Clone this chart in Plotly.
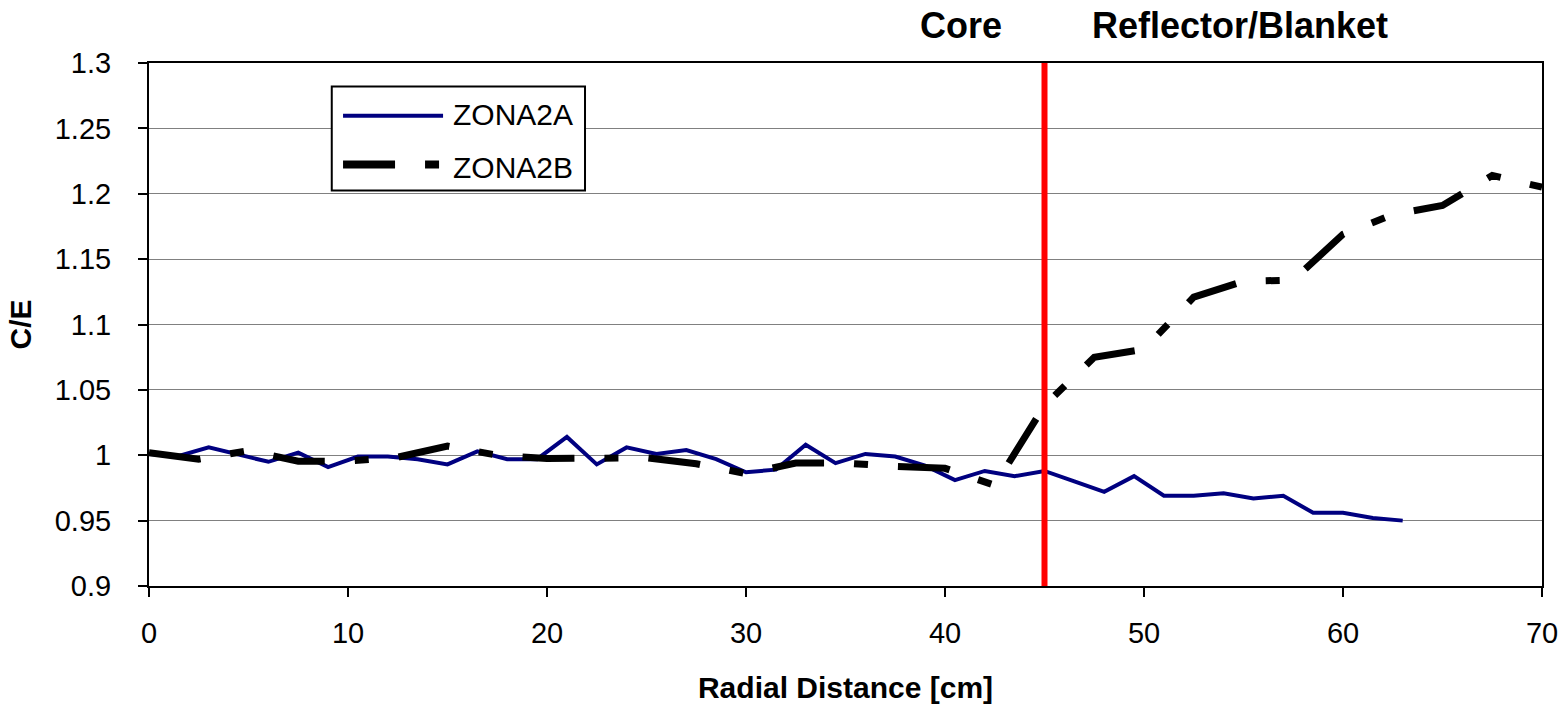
import plotly.graph_objects as go

# ---------------- data ----------------
radial_a = [0, 1.5, 3, 4.5, 6, 7.5, 9, 10.5, 12, 13.5, 15, 16.5, 18, 19.5, 21, 22.5,
            24, 25.5, 27, 28.5, 30, 31.5, 33, 34.5, 36, 37.5, 39, 40.5, 42, 43.5, 45,
            46.5, 48, 49.5, 51, 52.5, 54, 55.5, 57, 58.5, 60, 61.5, 63]
zona2a = [1.001, 0.9995, 1.006, 1.0005, 0.995, 1.002, 0.991, 0.999, 0.999, 0.997, 0.993,
          1.003, 0.997, 0.997, 1.014, 0.993, 1.006, 1.001, 1.004, 0.997, 0.987, 0.989,
          1.008, 0.994, 1.001, 0.999, 0.992, 0.981, 0.988, 0.984, 0.988, 0.980, 0.972,
          0.984, 0.969, 0.969, 0.971, 0.967, 0.969, 0.956, 0.956, 0.952, 0.950]

radial_b = [0, 2.5, 5, 7.5, 10, 12.5, 15, 17.5, 20, 22.5, 25, 27.5, 30, 32.5, 35, 37.5,
            40, 42.5, 45, 47.5, 50, 52.5, 55, 57.5, 60, 62.5, 65, 67.5, 70]
zona2b = [1.002, 0.997, 1.0035, 0.9955, 0.9955, 0.9985, 1.007, 1.0, 0.9975, 0.9975,
          0.998, 0.9935, 0.986, 0.994, 0.994, 0.9915, 0.990, 0.977, 1.038, 1.075,
          1.081, 1.121, 1.133, 1.134, 1.169, 1.184, 1.191, 1.214, 1.205]

series_names = ["ZONA2A", "ZONA2B"]
core_boundary = 45
region_labels = ["Core", "Reflector/Blanket"]
region_label_x = [40.8, 54.8]

x_tick_vals = [0, 10, 20, 30, 40, 50, 60, 70]
y_tick_vals = [0.9, 0.95, 1.0, 1.05, 1.1, 1.15, 1.2, 1.25, 1.3]
y_tick_text = ["0.9", "0.95", "1", "1.05", "1.1", "1.15", "1.2", "1.25", "1.3"]

# ---------------- styling ----------------
FONT = "Liberation Sans, Arial, Helvetica, sans-serif"
BLUE = "#000080"
BLACK_DASH = "52px,30px,14px,30px"

fig = go.Figure()
fig.add_trace(go.Scatter(x=radial_a, y=zona2a, mode="lines", name=series_names[0],
                         line=dict(color=BLUE, width=4), showlegend=False))
fig.add_trace(go.Scatter(x=radial_b, y=zona2b, mode="lines", name=series_names[1],
                         line=dict(color="black", width=7, dash=BLACK_DASH), showlegend=False))

shapes = []
# core / reflector boundary
shapes.append(dict(type="line", xref="x", yref="paper", x0=core_boundary, x1=core_boundary,
                   y0=0, y1=1, line=dict(color="#FF0000", width=6), layer="above"))

# custom legend box
shapes.append(dict(type="rect", xref="paper", yref="paper", x0=0.1312, x1=0.3130,
                   y0=0.7563, y1=0.9553, line=dict(color="black", width=2),
                   fillcolor="white", layer="above"))
shapes.append(dict(type="line", xref="paper", yref="paper", x0=0.1393, x1=0.2111,
                   y0=0.8992, y1=0.8992, line=dict(color=BLUE, width=4), layer="above"))
shapes.append(dict(type="line", xref="paper", yref="paper", x0=0.1393, x1=0.2111,
                   y0=0.8060, y1=0.8060, line=dict(color="black", width=8, dash=BLACK_DASH),
                   layer="above"))

annotations = []
annotations.append(dict(text=series_names[0], xref="paper", yref="paper", x=0.2166, y=0.9011,
                        xanchor="left", yanchor="middle", showarrow=False,
                        font=dict(family=FONT, size=30, color="black")))
annotations.append(dict(text=series_names[1], xref="paper", yref="paper", x=0.2166, y=0.7997,
                        xanchor="left", yanchor="middle", showarrow=False,
                        font=dict(family=FONT, size=30, color="black")))
for lbl, lx in zip(region_labels, region_label_x):
    annotations.append(dict(text="<b>%s</b>" % lbl, xref="x", yref="paper", x=lx, y=1.071,
                            xanchor="center", yanchor="middle", showarrow=False,
                            font=dict(family=FONT, size=36, color="black")))

fig.update_layout(
    width=1568, height=709,
    margin=dict(l=149, r=26, t=63, b=123),
    paper_bgcolor="white", plot_bgcolor="white",
    font=dict(family=FONT, size=29, color="black"),
    shapes=shapes, annotations=annotations,
    showlegend=False,
    xaxis=dict(range=[0, 70], tickvals=x_tick_vals, showgrid=False, zeroline=False,
               automargin=False,
               showline=True, linecolor="black", linewidth=2, mirror=True,
               ticks="outside", ticklen=9, tickwidth=2, tickcolor="black",
               ticklabelstandoff=11,
               tickfont=dict(family=FONT, size=29, color="black"),
               title=dict(text="<b>Radial Distance [cm]</b>", standoff=29,
                          font=dict(family=FONT, size=30, color="black"))),
    yaxis=dict(range=[0.9, 1.3], tickvals=y_tick_vals, ticktext=y_tick_text,
               automargin=False,
               showgrid=True, gridcolor="#808080", gridwidth=1, zeroline=False,
               showline=True, linecolor="black", linewidth=2, mirror=True,
               ticks="outside", ticklen=9, tickwidth=2, tickcolor="black",
               ticklabelstandoff=21,
               tickfont=dict(family=FONT, size=29, color="black"),
               title=dict(text="<b>C/E</b>", standoff=14,
                          font=dict(family=FONT, size=30, color="black"))),
)

fig.write_html("out.html")
